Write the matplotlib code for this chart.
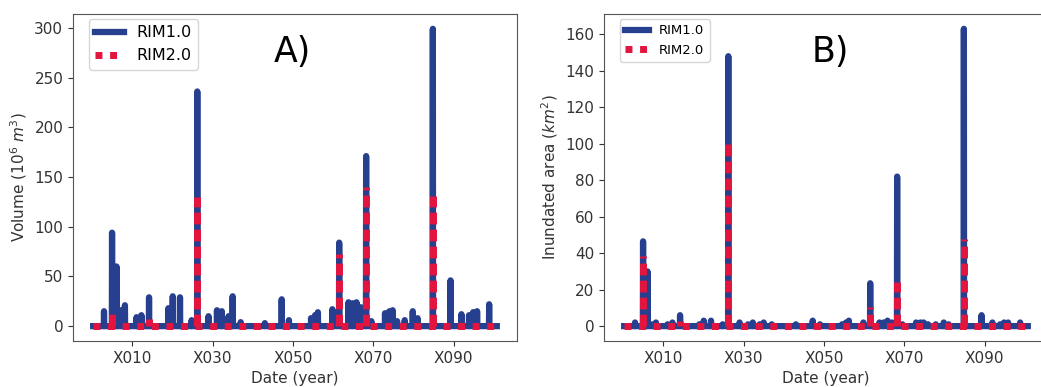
import matplotlib
matplotlib.use('Agg')
import matplotlib.pyplot as plt

# flood events: year offset, peak value for each model
event_year = [3.0, 5.0, 6.1, 7.2, 8.2, 11.1, 12.3, 14.2, 19.0, 20.1, 21.9, 24.8,
              26.2, 29.0, 31.1, 32.3, 34.0, 35.0, 37.0, 43.0, 47.2, 49.0, 54.5,
              55.5, 56.2, 59.8, 61.5, 63.8, 64.8, 65.8, 66.9, 68.2, 69.5, 72.9,
              74.0, 74.8, 75.9, 77.8, 79.8, 81.0, 84.8, 89.2, 91.9, 93.8, 94.8,
              95.8, 98.8]
vol_rim1 = [15, 94, 60, 16, 21, 9, 11, 29, 18, 30, 29, 6,
            236, 10, 16, 15, 10, 30, 4, 3, 27, 6, 8,
            11, 14, 17, 84, 24, 23, 24, 19, 171, 5, 13,
            15, 16, 5, 6, 15, 8, 299, 46, 12, 11, 14,
            15, 22]
vol_rim2 = [0, 16, 0, 0, 0, 0, 0, 7, 0, 0, 0, 0,
            130, 0, 0, 0, 0, 0, 0, 0, 0, 0, 0,
            0, 0, 0, 73, 0, 0, 0, 0, 140, 0, 0,
            0, 0, 0, 0, 0, 0, 131, 0, 0, 0, 0,
            0, 0]
area_rim1 = [2, 46.5, 30, 1, 2, 1, 2, 6, 1, 3, 3, 1,
             148, 2, 1, 2, 1, 2, 1, 1, 3, 1, 1,
             2, 3, 2, 23.5, 2, 2, 3, 2, 82, 1, 2,
             2, 2, 1, 1, 2, 1, 163, 6, 2, 1, 2,
             2, 2]
area_rim2 = [0, 38.5, 0, 0, 0, 0, 0, 3, 0, 0, 0, 0,
             100, 0, 0, 0, 0, 0, 0, 0, 0, 0, 0,
             0, 0, 0, 10.5, 0, 0, 0, 0, 24, 0, 0,
             0, 0, 0, 0, 0, 0, 48, 0, 0, 0, 0,
             0, 0]
start_year = 0.3
end_year = 100.7
xtick_pos = [10, 30, 50, 70, 90]
xtick_lab = ['X010', 'X030', 'X050', 'X070', 'X090']

blue = '#263F8E'
red = '#E3153F'
d = 0.05
dots = (0, (1, 1.1))
spike_dots = (0, (1.7, 0.75))

def spikes(vals):
    x = [start_year]
    y = [0]
    for t, v in zip(event_year, vals):
        x += [t - d, t, t + d]
        y += [0, v, 0]
    x.append(end_year)
    y.append(0)
    return x, y

fig = plt.figure(figsize=(10.41, 3.87), dpi=100)
axA = fig.add_axes([0.0701, 0.1189, 0.4265, 0.845])
axB = fig.add_axes([0.5802, 0.1189, 0.4265, 0.845])

panels = [(axA, vol_rim1, vol_rim2, 'Volume ($10^6$ $m^3$)', 'A)', 0.495, 11.5, [0, 50, 100, 150, 200, 250, 300]),
          (axB, area_rim1, area_rim2, 'Inundated area ($km^2$)', 'B)', 0.509, 9.5, [0, 20, 40, 60, 80, 100, 120, 140, 160])]

for ax, s1, s2, ylab, tag, tx, lfs, yt in panels:
    x1, y1 = spikes(s1)
    ax.plot(x1, y1, color=blue, lw=4.5, label='RIM1.0')
    # RIM2.0: baseline plus one upward leg per event so the dots stay separate
    ax.plot([start_year, end_year], [0, 0], color=red, lw=5, linestyle=dots, label='RIM2.0')
    up_x = [t for t, v in zip(event_year, s2) if v > 0]
    up_y = [v for v in s2 if v > 0]
    ax.vlines(up_x, 0, up_y, color=red, lw=5, linestyle=spike_dots)
    ax.set_xticks(xtick_pos)
    ax.set_xticklabels(xtick_lab)
    ax.set_yticks(yt)
    ax.tick_params(labelsize=11, colors='#333333')
    for sp in ax.spines.values():
        sp.set_color('#555555')
    ax.set_ylabel(ylab, fontsize=11, color='#333333')
    ax.set_xlabel('Date (year)', fontsize=11, color='#333333')
    ax.text(tx, 0.885, tag, transform=ax.transAxes, fontsize=25,
            ha='center', va='center')
    ax.legend(loc='upper left', bbox_to_anchor=(0.035, 0.985), borderaxespad=0,
              fontsize=lfs, handlelength=1.8)

fig.savefig('out.png', dpi=100)
